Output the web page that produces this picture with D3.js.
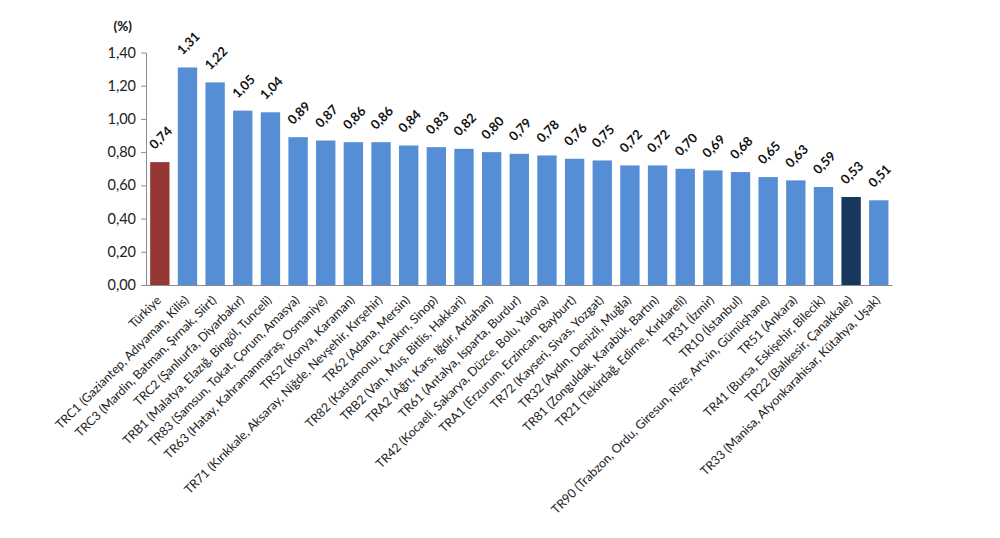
<!DOCTYPE html>
<html>
<head>
<meta charset="utf-8">
<script src="https://cdn.jsdelivr.net/npm/d3@7"></script>
<style>
  body { margin: 0; background: #fff; }
  svg { display: block; font-family: Lato, "Open Sans", sans-serif; }
</style>
</head>
<body>
<svg id="chart" width="1000" height="538"></svg>
<script>
// data
const regions = [
  "Türkiye",
  "TRC1 (Gaziantep, Adıyaman, Kilis)",
  "TRC3 (Mardin, Batman, Şırnak, Siirt)",
  "TRC2 (Şanlıurfa, Diyarbakır)",
  "TRB1 (Malatya, Elazığ, Bingöl, Tunceli)",
  "TR83 (Samsun, Tokat, Çorum, Amasya)",
  "TR63 (Hatay, Kahramanmaraş, Osmaniye)",
  "TR52 (Konya, Karaman)",
  "TR71 (Kırıkkale, Aksaray, Niğde, Nevşehir, Kırşehir)",
  "TR62 (Adana, Mersin)",
  "TR82 (Kastamonu, Çankırı, Sinop)",
  "TRB2 (Van, Muş, Bitlis, Hakkari)",
  "TRA2 (Ağrı, Kars, Iğdır, Ardahan)",
  "TR61 (Antalya, Isparta, Burdur)",
  "TR42 (Kocaeli, Sakarya, Düzce, Bolu, Yalova)",
  "TRA1 (Erzurum, Erzincan, Bayburt)",
  "TR72 (Kayseri, Sivas, Yozgat)",
  "TR32 (Aydın, Denizli, Muğla)",
  "TR81 (Zonguldak, Karabük, Bartın)",
  "TR21 (Tekirdağ, Edirne, Kırklareli)",
  "TR31 (İzmir)",
  "TR10 (İstanbul)",
  "TR90 (Trabzon, Ordu, Giresun, Rize, Artvin, Gümüşhane)",
  "TR51 (Ankara)",
  "TR41 (Bursa, Eskişehir, Bilecik)",
  "TR22 (Balıkesir, Çanakkale)",
  "TR33 (Manisa, Afyonkarahisar, Kütahya, Uşak)"
];
const values = [0.74, 1.31, 1.22, 1.05, 1.04, 0.89, 0.87, 0.86, 0.86, 0.84, 0.83, 0.82, 0.80,
  0.79, 0.78, 0.76, 0.75, 0.72, 0.72, 0.70, 0.69, 0.68, 0.65, 0.63, 0.59, 0.53, 0.51];
const yTicks = [0, 0.2, 0.4, 0.6, 0.8, 1.0, 1.2, 1.4];

const svg = d3.select("#chart");
const plotLeft = 146, plotRight = 892.6, plotTop = 52.5, plotBottom = 285;
const fmt = d => d.toFixed(2).replace(".", ",");

const x = d3.scaleBand().domain(d3.range(regions.length)).range([plotLeft, plotRight])
  .paddingInner(0.3).paddingOuter(0.15);
const y = d3.scaleLinear().domain([0, 1.4]).range([plotBottom, plotTop]);

const color = i => regions[i] === "Türkiye" ? "#953735"
  : regions[i].startsWith("TR22") ? "#17375E" : "#558ED5";

// y axis
const yAxis = svg.append("g")
  .attr("transform", `translate(${plotLeft},0)`)
  .call(d3.axisLeft(y).tickValues(yTicks).tickFormat(fmt).tickSize(5).tickSizeOuter(0));
yAxis.select(".domain").attr("stroke", "#8c8c8c");
yAxis.selectAll(".tick line").attr("stroke", "#8c8c8c");
yAxis.selectAll(".tick text").attr("font-size", 14.5).attr("fill", "#222")
  .attr("font-family", "Lato, sans-serif").attr("x", -10);

svg.append("text").attr("x", 132).attr("y", 31).attr("text-anchor", "end")
  .attr("font-size", 13.5).attr("font-weight", "bold").attr("fill", "#111").text("(%)");

// bars
svg.append("g").selectAll("rect").data(values).join("rect")
  .attr("x", (d, i) => x(i))
  .attr("y", d => y(d))
  .attr("width", x.bandwidth())
  .attr("height", d => plotBottom - y(d))
  .attr("fill", (d, i) => color(i));

// x baseline
svg.append("line").attr("x1", plotLeft).attr("x2", plotRight)
  .attr("y1", plotBottom + 0.5).attr("y2", plotBottom + 0.5)
  .attr("stroke", "#8c8c8c");

// value labels
svg.append("g").selectAll("text").data(values).join("text")
  .attr("transform", (d, i) => `translate(${x(i) + x.bandwidth() / 2 - 5},${y(d) - 12}) rotate(-45)`)
  .attr("font-size", 13).attr("font-weight", "bold").attr("fill", "#111")
  .text(fmt);

// category labels
svg.append("g").selectAll("text").data(regions).join("text")
  .attr("transform", (d, i) => `translate(${x(i) + x.bandwidth() / 2 + 2},${plotBottom + 16}) rotate(-45)`)
  .attr("text-anchor", "end")
  .attr("font-size", 12.4).attr("fill", "#222")
  .text(d => d);
</script>
</body>
</html>
